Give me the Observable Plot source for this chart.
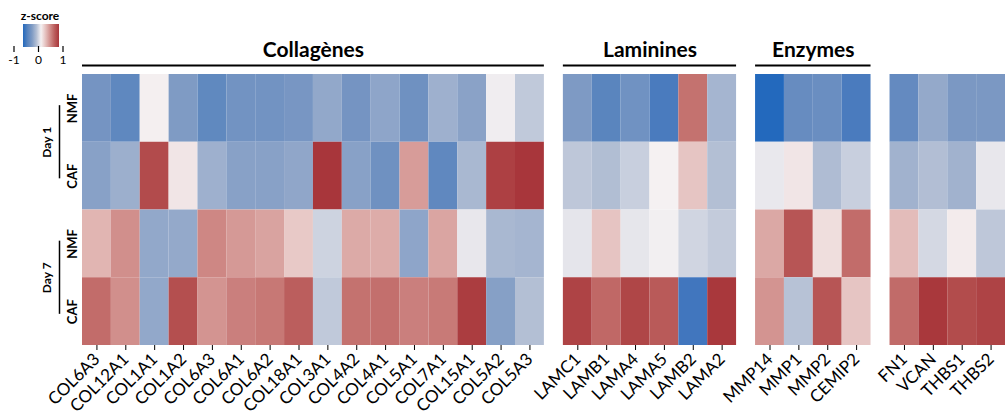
<!DOCTYPE html>
<html><head><meta charset="utf-8">
<script src="https://cdn.jsdelivr.net/npm/d3@7"></script>
<script src="https://cdn.jsdelivr.net/npm/@observablehq/plot@0.6"></script>
<style>
body{margin:0;background:#fff;font-family:Lato, sans-serif;}
#wrap{position:relative;width:1005px;height:414px;overflow:hidden;background:#fff;}
#legend{position:absolute;left:0;top:0;}
#chart{position:absolute;left:0;top:0;}
</style></head><body><div id="wrap"><div id="chart"></div><div id="legend"></div></div>
<script>
// ---- data ----
const collagenes = ["COL6A3","COL12A1","COL1A1","COL1A2","COL6A3","COL6A1","COL6A2","COL18A1","COL3A1","COL4A2","COL4A1","COL5A1","COL7A1","COL15A1","COL5A2","COL5A3"];
const laminines = ["LAMC1","LAMB1","LAMA4","LAMA5","LAMB2","LAMA2"];
const enzymes = ["MMP14","MMP1","MMP2","CEMIP2"];
const autres = ["FN1","VCAN","THBS1","THBS2"];
const groupTitles = ["Collagènes","Laminines","Enzymes",""];
const rowNames = ["NMF","CAF","NMF","CAF"];
const dayNames = ["Day 1","Day 7"];
// z-scores, genes in order: collagènes | laminines | enzymes | autres
const day1NMF = [-0.57,-0.71,0.01,-0.50,-0.70,-0.59,-0.59,-0.55,-0.41,-0.57,-0.43,-0.61,-0.35,-0.45,-0.02,-0.20,
  -0.51,-0.74,-0.60,-0.835,0.65,-0.32,
  -1.00,-0.66,-0.64,-0.835,
  -0.68,-0.40,-0.53,-0.53];
const day1CAF = [-0.46,-0.36,0.875,0.06,-0.35,-0.46,-0.46,-0.42,1.00,-0.46,-0.61,0.435,-0.705,-0.30,0.94,1.00,
  -0.21,-0.26,-0.17,0.00,0.23,-0.25,
  -0.045,0.06,-0.27,-0.17,
  -0.34,-0.255,-0.34,-0.05];
const day7NMF = [0.31,0.50,-0.41,-0.40,0.54,0.45,0.40,0.21,-0.15,0.365,0.355,-0.43,0.39,-0.05,-0.30,-0.32,
  -0.06,0.235,-0.055,-0.01,-0.14,-0.19,
  0.375,0.81,0.10,0.68,
  0.275,-0.125,0.03,-0.21];
const day7CAF = [0.68,0.50,-0.41,0.85,0.475,0.58,0.62,0.75,-0.20,0.65,0.665,0.58,0.61,0.96,-0.465,-0.25,
  0.925,0.70,0.906,0.775,-0.88,0.99,
  0.475,-0.235,0.81,0.23,
  0.685,0.99,0.87,0.925];
const zStops = [-1,-0.75,-0.5,-0.25,0,0.25,0.5,0.75,1];
const zColors = ["#2369bd","#5884be","#7f9bc4","#b3bfd4","#f5f1f2","#e5c1bf","#d18f8c","#bb5e5d","#a8363b"];
const legendTicks = [-1,0,1];

// ---- build tables ----
const geneGroups = [collagenes, laminines, enzymes, autres];
const rowValues = [day1NMF, day1CAF, day7NMF, day7CAF];
const gap = 0.658;
const cells = [], ticks = [], labelMap = new Map(), panels = [];
let offset = 0, k = 0;
geneGroups.forEach((genes, gi) => {
  const start = offset;
  genes.forEach((gene, j) => {
    const pos = offset + j;
    rowValues.forEach((vals, r) => cells.push({gene, pos, row: r, z: vals[k]}));
    ticks.push(pos + 0.5);
    labelMap.set((pos + 0.5).toFixed(3), gene);
    k++;
  });
  offset += genes.length;
  panels.push({name: groupTitles[gi], start, end: offset});
  offset += gap;
});
const total = offset - gap;
const titled = panels.filter(p => p.name);
const rowLabels = rowNames.map((label, row) => ({label, row}));
const days = dayNames.map((label, i) => ({label, mid: i * 2 + 1}));

const chart = Plot.plot({
  width: 1005, height: 414,
  marginLeft: 82, marginRight: 0, marginTop: 74, marginBottom: 69,
  style: {fontFamily: "Lato, sans-serif", fontSize: "17px", color: "#000", background: "transparent"},
  x: {domain: [0, total], ticks, tickFormat: d => labelMap.get(d.toFixed(3)), tickRotate: -45, tickSize: 5, tickPadding: 6, label: null},
  y: {domain: [0, 4], reverse: true, axis: null},
  color: {type: "linear", domain: zStops, range: zColors, interpolate: "lab", clamp: true},
  marks: [
    Plot.rect(cells, {x1: "pos", x2: d => d.pos + 1, y1: "row", y2: d => d.row + 1, fill: "z"}),
    Plot.text(titled, {x: d => (d.start + d.end) / 2, y: () => 0, dy: -24, text: "name", fontSize: 21, fontWeight: "bold", fill: "#000"}),
    Plot.ruleY(titled, {x1: "start", x2: "end", y: () => 0, dy: -9, strokeWidth: 2, stroke: "#000"}),
    Plot.text(rowLabels, {x: () => 0, dx: -10, y: d => d.row + 0.5, text: "label", rotate: -90, fontSize: 13, fontWeight: "bold", fill: "#000"}),
    Plot.text(days, {x: () => 0, dx: -35, y: "mid", text: "label", rotate: -90, fontSize: 12, fontWeight: "bold", fill: "#000"}),
    Plot.ruleX(days, {x: () => 0, dx: -23, y1: d => d.mid - 0.54, y2: d => d.mid + 0.54, strokeWidth: 1.5, stroke: "#000"})
  ]
});
document.getElementById("chart").append(chart);

// ---- legend ----
const lg = d3.create("svg").attr("width", 80).attr("height", 70).style("font-family", "Lato, sans-serif");
const grad = lg.append("defs").append("linearGradient").attr("id", "zgrad");
zStops.forEach((z, i) => grad.append("stop").attr("offset", (z + 1) / 2).attr("stop-color", zColors[i]));
lg.append("rect").attr("x", 23).attr("y", 24).attr("width", 36).attr("height", 23).attr("fill", "url(#zgrad)");
lg.append("text").attr("x", 40).attr("y", 20).attr("text-anchor", "middle").attr("font-size", 12).attr("font-weight", "bold").text("z-score");
const lx = d3.scaleLinear([-1, 1], [14, 63]);
legendTicks.forEach(t => {
  lg.append("line").attr("x1", lx(t)).attr("x2", lx(t)).attr("y1", 46).attr("y2", 52).attr("stroke", "#000").attr("stroke-width", 1.2);
  lg.append("text").attr("x", lx(t)).attr("y", 64).attr("text-anchor", "middle").attr("font-size", 12).text(t);
});
document.getElementById("legend").append(lg.node());
</script></body></html>
